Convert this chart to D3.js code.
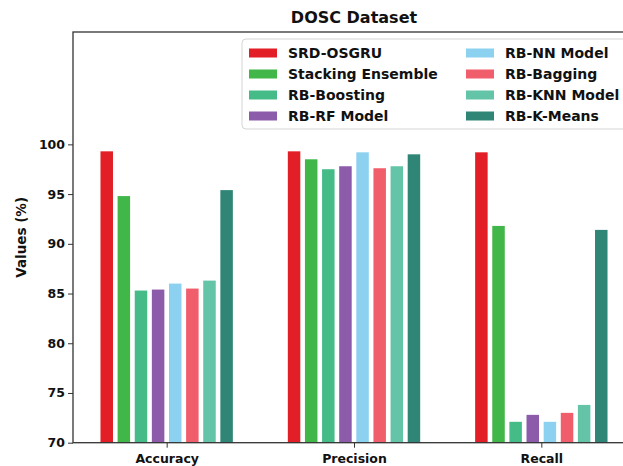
<!DOCTYPE html>
<html>
<head>
<meta charset="utf-8">
<script src="https://cdn.jsdelivr.net/npm/d3@7"></script>
<style>
	body { margin: 0; background: #fff; }
	text { font-family: "DejaVu Sans", sans-serif; font-weight: bold; }
</style>
</head>
<body>
<div id="chart"></div>
<script>
var metrics = ['Accuracy', 'Precision', 'Recall'];
var models = ['SRD-OSGRU', 'Stacking Ensemble', 'RB-Boosting', 'RB-RF Model',
	'RB-NN Model', 'RB-Bagging', 'RB-KNN Model', 'RB-K-Means'];
var colors = ['#e21f26', '#41b649', '#45bb88', '#8c5ba9', '#8dd1f1', '#f15e6b', '#63c4a7', '#2f8677'];

// one array per model: accuracy, precision, recall
var srdOsgru = [99.3, 99.3, 99.2];
var stacking = [94.8, 98.5, 91.8];
var rbBoosting = [85.3, 97.5, 72.1];
var rbRf = [85.4, 97.8, 72.8];
var rbNn = [86.0, 99.2, 72.1];
var rbBagging = [85.5, 97.6, 73.0];
var rbKnn = [86.3, 97.8, 73.8];
var rbKmeans = [95.4, 99.0, 91.4];
var series = [srdOsgru, stacking, rbBoosting, rbRf, rbNn, rbBagging, rbKnn, rbKmeans];

var yTicks = [70, 75, 80, 85, 90, 95, 100];

function renderChart() {
	var w = 623, h = 466;
	var mLeft = 73, mRight = 635, mTop = 32, mBottom = 442.7;

	var svg = d3.select('#chart')
		.append('svg')
		.attr('width', w)
		.attr('height', h);

	svg.append('rect').attr('width', w).attr('height', h).attr('fill', '#fff');

	var x = d3.scaleLinear().domain([-0.5, 2.5]).range([mLeft, mRight]);
	var inner = d3.scaleBand().domain(models).range([-68.5, 68.5])
		.paddingInner(0.27).paddingOuter(0.135);
	var y = d3.scaleLinear().domain([70, 111.3]).range([mBottom, mTop]);

	// bars
	var groups = svg.selectAll('g.metric')
		.data(metrics)
		.enter()
		.append('g')
		.attr('class', 'metric')
		.attr('transform', function(d, i) { return 'translate(' + x(i) + ',0)'; });

	groups.selectAll('rect')
		.data(function(d, i) {
			return models.map(function(m, j) { return {model: m, value: series[j][i], k: j}; });
		})
		.enter()
		.append('rect')
		.attr('x', function(d) { return inner(d.model); })
		.attr('width', inner.bandwidth())
		.attr('y', function(d) { return y(d.value); })
		.attr('height', function(d) { return y(70) - y(d.value); })
		.attr('fill', function(d) { return colors[d.k]; });

	// axes
	var yAxis = d3.axisLeft(y).tickValues(yTicks).tickSize(5).tickPadding(3);
	var gy = svg.append('g').attr('transform', 'translate(' + mLeft + ',0)').call(yAxis);
	gy.select('.domain').remove();
	gy.selectAll('text').attr('font-size', '12.5px').attr('fill', '#111');
	gy.selectAll('line').attr('stroke', '#333');

	var xAxis = d3.axisBottom(x).tickValues([0, 1, 2])
		.tickFormat(function(d) { return metrics[d]; }).tickSize(5).tickPadding(6);
	var gx = svg.append('g').attr('transform', 'translate(0,' + mBottom + ')').call(xAxis);
	gx.select('.domain').remove();
	gx.selectAll('text').attr('font-size', '12.5px').attr('fill', '#111');
	gx.selectAll('line').attr('stroke', '#333');

	// frame
	svg.append('rect')
		.attr('x', mLeft).attr('y', mTop)
		.attr('width', mRight - mLeft).attr('height', mBottom - mTop)
		.attr('fill', 'none')
		.attr('stroke', '#333')
		.attr('stroke-width', 1.3);

	// title and y label
	svg.append('text')
		.attr('x', (mLeft + mRight) / 2).attr('y', 23)
		.attr('text-anchor', 'middle')
		.attr('font-size', '16px')
		.attr('fill', '#111')
		.text('DOSC Dataset');

	svg.append('text')
		.attr('transform', 'translate(26,' + ((mTop + mBottom) / 2) + ') rotate(-90)')
		.attr('text-anchor', 'middle')
		.attr('font-size', '13.5px')
		.attr('fill', '#111')
		.text('Values (%)');

	// legend
	var legend = svg.append('g');
	legend.append('rect')
		.attr('x', 242).attr('y', 39)
		.attr('width', 420).attr('height', 90)
		.attr('rx', 4)
		.attr('fill', '#fff')
		.attr('fill-opacity', 0.8)
		.attr('stroke', '#d5d5d5');

	var items = legend.selectAll('g.item')
		.data(models)
		.enter()
		.append('g')
		.attr('class', 'item')
		.attr('transform', function(d, i) {
			var col = Math.floor(i / 4), row = i % 4;
			return 'translate(' + (249 + col * 217) + ',' + (53 + row * 21) + ')';
		});

	items.append('rect')
		.attr('x', 0).attr('y', -4.5)
		.attr('width', 28).attr('height', 9)
		.attr('fill', function(d, i) { return colors[i]; });

	items.append('text')
		.attr('x', 39).attr('y', 0)
		.attr('dy', '0.35em')
		.attr('font-size', '14px')
		.attr('fill', '#111')
		.text(function(d) { return d; });
}

renderChart();
</script>
</body>
</html>
